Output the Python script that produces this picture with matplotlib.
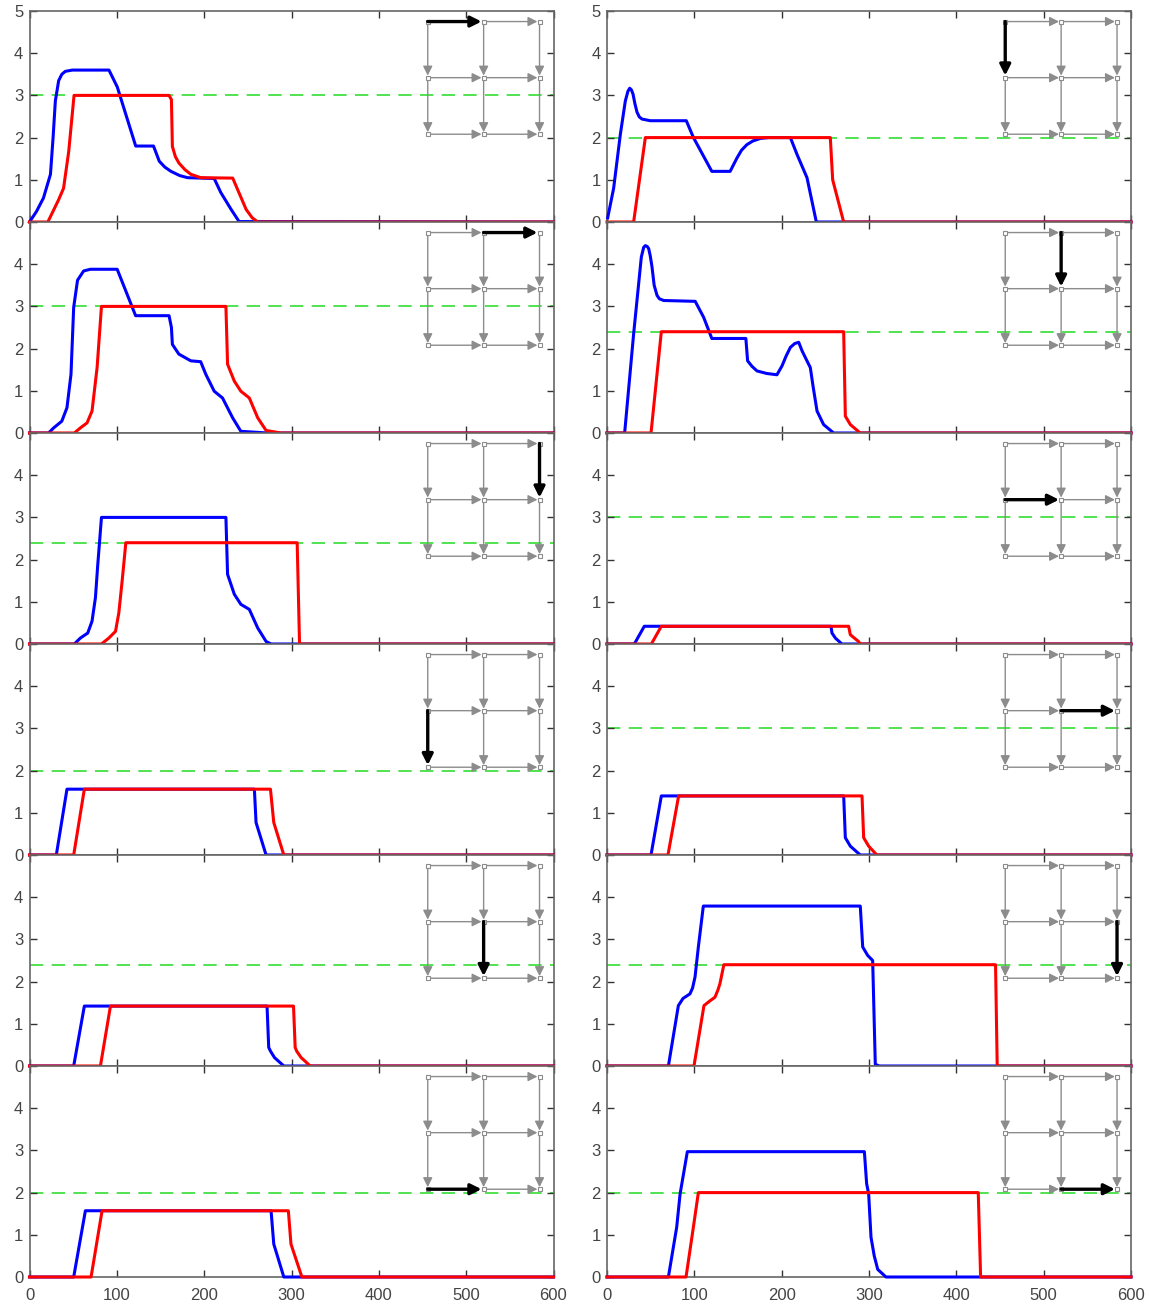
import matplotlib.pyplot as plt

plt.rcParams['font.family'] = ['Liberation Sans', 'DejaVu Sans']

# (x, y) points, one list per curve
# left column, rows 1..6
blue_L1 = [(0, 0), (8, 0.25), (16, 0.57), (24, 1.13), (27, 2.0), (29.6, 2.87), (33.4, 3.35), (37, 3.5),
           (41, 3.57), (49, 3.6), (91, 3.6), (100.5, 3.2), (121.6, 1.8), (142, 1.8), (148.6, 1.44),
           (155, 1.3), (162, 1.2), (172, 1.1), (181, 1.05), (211.5, 1.03), (219, 0.7), (230.8, 0.3),
           (240, 0.01), (600, 0)]
red_L1 = [(0, 0), (21, 0), (33.4, 0.53), (39, 0.8), (44.9, 1.67), (51, 3.0), (159.8, 3.0), (162.5, 2.9),
          (163.6, 1.79), (167, 1.55), (171, 1.4), (178, 1.24), (184.8, 1.13), (196, 1.05), (232.7, 1.04),
          (248, 0.3), (255, 0.1), (261.4, 0), (600, 0)]
blue_L2 = [(0, 0), (21.8, 0), (27.6, 0.12), (37, 0.28), (42.9, 0.6), (47.5, 1.39), (50.6, 2.98),
           (55, 3.62), (62, 3.84), (69.7, 3.88), (100.4, 3.88), (110, 3.38), (121.5, 2.78), (159.8, 2.78),
           (162.5, 2.5), (163.6, 2.1), (171, 1.87), (184.7, 1.71), (196, 1.69), (201.9, 1.39),
           (211.5, 0.99), (221, 0.83), (232.6, 0.36), (242, 0.04), (272.8, 0), (600, 0)]
red_L2 = [(0, 0), (51.3, 0), (58.2, 0.12), (65.9, 0.24), (71.6, 0.52), (77.4, 1.55), (82.4, 3.0),
          (224.9, 3.0), (226.8, 1.63), (234.5, 1.23), (242, 0.99), (251.7, 0.83), (261.3, 0.36),
          (270.9, 0.06), (288, 0), (600, 0)]
blue_L3 = [(0, 0), (51.3, 0), (58.2, 0.14), (66.7, 0.26), (71.6, 0.54), (75.5, 1.1), (78.2, 1.89),
           (82.4, 3.0), (224.9, 3.0), (226.8, 1.65), (234.5, 1.18), (242, 0.94), (251.7, 0.82),
           (261.3, 0.38), (270.9, 0.06), (276.6, 0), (600, 0)]
red_L3 = [(0, 0), (82.4, 0), (90.8, 0.14), (98.5, 0.3), (102.3, 0.74), (106.1, 1.5), (110.3, 2.4),
          (306.5, 2.4), (309.2, 0), (600, 0)]
blue_L4 = [(0, 0), (30.7, 0), (42.9, 1.56), (257.5, 1.56), (259.4, 0.77), (270.9, 0), (600, 0)]
red_L4 = [(0, 0), (50.6, 0), (62.8, 1.56), (275.9, 1.56), (279.7, 0.77), (291.2, 0), (600, 0)]
blue_L5 = [(0, 0), (50.6, 0), (62.8, 1.42), (272, 1.42), (273.9, 0.44), (276, 0.35), (280.5, 0.2),
           (291.2, 0), (600, 0)]
red_L5 = [(0, 0), (81.2, 0), (92.7, 1.42), (302.3, 1.42), (304.2, 0.44), (306, 0.35), (311, 0.2),
          (321.5, 0), (600, 0)]
blue_L6 = [(0, 0), (50.6, 0), (64, 1.57), (276.6, 1.57), (279.7, 0.78), (291.2, 0), (600, 0)]
red_L6 = [(0, 0), (70.5, 0), (83.1, 1.57), (296.4, 1.57), (299.4, 0.78), (311.9, 0), (600, 0)]

# right column, rows 1..6
blue_R1 = [(0.8, 0.1), (7.6, 0.8), (15.3, 2.08), (21, 2.87), (24, 3.1), (26, 3.17), (28, 3.13),
           (29.8, 3.03), (32, 2.8), (34.4, 2.6), (37, 2.49), (40, 2.44), (49.6, 2.4), (90.8, 2.4),
           (99, 2.0), (120, 1.2), (141, 1.2), (148.9, 1.52), (154, 1.7), (160, 1.83), (167, 1.92),
           (175.6, 1.98), (185, 2.0), (210, 2.0), (217.6, 1.6), (229, 1.05), (239.7, 0), (600, 0)]
red_R1 = [(0, 0), (30.5, 0), (43.9, 2.0), (255.7, 2.0), (258.4, 1.0), (271, 0), (600, 0)]
blue_R2 = [(0, 0), (20.2, 0), (30.5, 2.35), (39.3, 4.17), (42, 4.4), (43.9, 4.44), (46, 4.42),
           (47.7, 4.37), (49.5, 4.2), (51.5, 3.94), (54, 3.5), (57.3, 3.26), (60, 3.18), (64.9, 3.14),
           (101, 3.12), (110.7, 2.74), (120, 2.24), (159, 2.24), (161, 1.71), (166, 1.58),
           (171.8, 1.47), (183, 1.41), (194.6, 1.38), (200.4, 1.59), (205, 1.82), (210, 2.03),
           (215, 2.12), (219.5, 2.15), (223.3, 1.95), (228, 1.75), (232.8, 1.55), (236, 1.1),
           (240.5, 0.52), (248, 0.2), (259.5, 0), (600, 0)]
red_R2 = [(0, 0), (50.4, 0), (62.2, 2.4), (271, 2.4), (272.9, 0.4), (278.6, 0.2), (290, 0), (600, 0)]
blue_R3 = [(0, 0), (31.3, 0), (42.7, 0.42), (256.5, 0.42), (257.6, 0.26), (261.5, 0.14), (269, 0), (600, 0)]
red_R3 = [(0, 0), (50.8, 0), (62.2, 0.42), (276.7, 0.42), (278.6, 0.22), (288, 0.06), (290, 0), (600, 0)]
blue_R4 = [(0, 0), (50.4, 0), (62.2, 1.40), (271, 1.40), (272.9, 0.41), (278.6, 0.21), (290, 0), (600, 0)]
red_R4 = [(0, 0), (69.8, 0), (82, 1.40), (292, 1.40), (293.9, 0.41), (299.6, 0.21), (309, 0), (600, 0)]
blue_R5 = [(0, 0), (70.3, 0), (81.7, 1.43), (87, 1.6), (95, 1.71), (98, 1.85), (100.8, 2.11),
           (104.6, 2.82), (110.3, 3.79), (290, 3.79), (292.8, 2.82), (298.5, 2.62), (304.2, 2.5),
           (307.2, 0.04), (311.8, 0), (600, 0)]
red_R5 = [(0, 0), (99.6, 0), (111, 1.43), (117, 1.53), (123.6, 1.63), (127, 1.8), (129.3, 1.95),
          (133.8, 2.4), (444.9, 2.4), (446.8, 0), (600, 0)]
blue_R6 = [(0, 0), (70.3, 0), (79.8, 1.18), (83.7, 1.97), (92, 2.97), (294.7, 2.97), (297.3, 2.21),
           (299.6, 1.97), (302.3, 0.94), (306, 0.5), (310, 0.18), (319.4, 0), (600, 0)]
red_R6 = [(0, 0), (90.5, 0), (98.9, 1.18), (104.6, 2.0), (425.1, 2.0), (427.8, 0), (600, 0)]

blue_curves = [[blue_L1, blue_R1], [blue_L2, blue_R2], [blue_L3, blue_R3],
               [blue_L4, blue_R4], [blue_L5, blue_R5], [blue_L6, blue_R6]]
red_curves = [[red_L1, red_R1], [red_L2, red_R2], [red_L3, red_R3],
              [red_L4, red_R4], [red_L5, red_R5], [red_L6, red_R6]]

# green dashed reference level per panel
ref_levels = [[3, 2], [3, 2.4], [2.4, 3], [2, 3], [2.4, 2.4], [2, 2]]

# highlighted edge of the 3x3 grid: (direction, col, row) of the start node
highlight = [[('h', 0, 0), ('v', 0, 0)],
             [('h', 1, 0), ('v', 1, 0)],
             [('v', 2, 0), ('h', 0, 1)],
             [('v', 0, 1), ('h', 1, 1)],
             [('v', 1, 1), ('v', 2, 1)],
             [('h', 0, 2), ('h', 1, 2)]]

grid_x = [456, 520, 584]
grid_y = [4.75, 3.42, 2.08]

W, H = 1149, 1306
fig = plt.figure(figsize=(W / 100, H / 100), dpi=100)

axis_col = '#666666'
text_col = '#444444'


def edge_end(e):
    d, i, j = e
    if d == 'h':
        return grid_x[i + 1], grid_y[j]
    return grid_x[i], grid_y[j + 1]


def draw_grid(ax, hl):
    edges = [('h', i, j) for j in range(3) for i in range(2)]
    edges += [('v', i, j) for i in range(3) for j in range(2)]
    for e in edges:
        if e == hl:
            continue
        x0, y0 = grid_x[e[1]], grid_y[e[2]]
        x1, y1 = edge_end(e)
        ax.annotate('', xy=(x1, y1), xytext=(x0, y0),
                    arrowprops=dict(arrowstyle='-|>', color='#8c8c8c', lw=1.0,
                                    mutation_scale=14, shrinkA=0, shrinkB=1.5))
    for i in range(3):
        for j in range(3):
            ax.plot(grid_x[i], grid_y[j], 's', ms=2.5, mfc='white', mec='#8c8c8c', mew=0.8, zorder=5)
    x0, y0 = grid_x[hl[1]], grid_y[hl[2]]
    x1, y1 = edge_end(hl)
    ax.annotate('', xy=(x1, y1), xytext=(x0, y0),
                arrowprops=dict(arrowstyle='-|>', color='black', lw=2.4,
                                mutation_scale=16, shrinkA=0, shrinkB=1.5), zorder=6)


lefts = [29.5, 607]
for r in range(6):
    for c in range(2):
        top_px = 11 + 211 * r
        ax = fig.add_axes([lefts[c] / W, 1 - (top_px + 211) / H, 524 / W, 211 / H])
        ax.axhline(ref_levels[r][c], color='#33dd33', lw=1.2, dashes=(8, 5), zorder=1)
        draw_grid(ax, highlight[r][c])
        bx = [p[0] for p in blue_curves[r][c]]
        by = [p[1] for p in blue_curves[r][c]]
        rx = [p[0] for p in red_curves[r][c]]
        ry = [p[1] for p in red_curves[r][c]]
        ax.plot(bx, by, color='blue', lw=2.2, zorder=3, clip_on=False)
        ax.plot(rx, ry, color='red', lw=2.2, zorder=4, clip_on=False)
        ax.set_xlim(0, 600)
        ax.set_ylim(0, 5)
        ax.set_xticks(range(0, 601, 100))
        ax.set_yticks(range(0, 6))
        if r == 0:
            ax.set_yticklabels(['0', '1', '2', '3', '4', '5'])
        else:
            ax.set_yticklabels(['0', '1', '2', '3', '4', ''])
        if r < 5:
            ax.set_xticklabels([])
        ax.tick_params(direction='in', top=True, right=True, length=5, width=1,
                       labelcolor=text_col, color='#333333', labelsize=12)
        ax.tick_params(axis='y', pad=4.5)
        ax.tick_params(axis='x', pad=8)
        for s in ax.spines.values():
            s.set_color(axis_col)
            s.set_linewidth(1.2)

fig.savefig('out.png', dpi=100)
